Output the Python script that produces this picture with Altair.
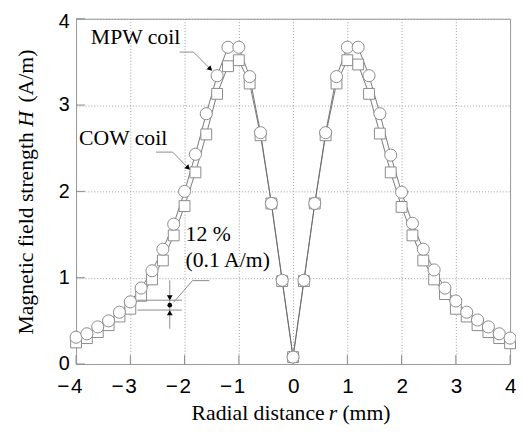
import altair as alt
import pandas as pd

# ---------------- data ----------------
r_pos = [-4.0, -3.8, -3.6, -3.4, -3.2, -3.0, -2.8, -2.6, -2.4, -2.2, -2.0,
         -1.8, -1.6, -1.4, -1.2, -1.0, -0.8, -0.6, -0.4, -0.2, 0.0,
         0.2, 0.4, 0.6, 0.8, 1.0, 1.2, 1.4, 1.6, 1.8, 2.0,
         2.2, 2.4, 2.6, 2.8, 3.0, 3.2, 3.4, 3.6, 3.8, 4.0]

mpw_H = [0.31, 0.35, 0.43, 0.50, 0.60, 0.72, 0.88, 1.08, 1.33, 1.62, 2.00,
         2.43, 2.90, 3.34, 3.67, 3.67, 3.33, 2.68, 1.86, 0.97, 0.08,
         0.97, 1.86, 2.68, 3.33, 3.67, 3.67, 3.34, 2.90, 2.42, 1.99,
         1.63, 1.33, 1.09, 0.88, 0.73, 0.60, 0.51, 0.43, 0.35, 0.30]

cow_H = [0.25, 0.30, 0.37, 0.45, 0.55, 0.64, 0.79, 0.98, 1.20, 1.49, 1.83,
         2.22, 2.66, 3.13, 3.45, 3.52, 3.25, 2.65, 1.86, 0.96, 0.08,
         0.96, 1.86, 2.65, 3.25, 3.52, 3.47, 3.13, 2.67, 2.22, 1.82,
         1.49, 1.20, 0.98, 0.81, 0.64, 0.55, 0.45, 0.37, 0.30, 0.24]

x_ticks = [-4, -3, -2, -1, 0, 1, 2, 3, 4]
y_ticks = [0, 1, 2, 3, 4]

# annotation texts (data coordinates)
ann_label = ["MPW coil", "COW coil", "12 %", "(0.1 A/m)"]
ann_r = [-3.727, -3.945, -1.982, -1.982]
ann_H = [3.705, 2.534, 1.42, 1.125]

# leader / dimension segments
seg_r1 = [-2.091, -1.836, -2.527, -2.218, -2.87, -2.87, -2.273, -2.20, -1.855]
seg_H1 = [3.614, 3.614, 2.455, 2.455, 0.739, 0.625, 0.97, 0.716, 0.966]
seg_r2 = [-1.836, -1.536, -2.218, -1.945, -2.05, -2.05, -2.273, -1.855, -1.545]
seg_H2 = [3.614, 3.425, 2.455, 2.278, 0.739, 0.625, 0.41, 0.966, 0.966]

# arrow heads
arw_r = [-1.536, -1.945, -2.273, -2.273]
arw_H = [3.425, 2.278, 0.778, 0.585]
arw_angle = [133, 135, 180, 0]

dot_r = [-2.273]
dot_H = [0.682]

SERIF = "Liberation Serif, Times New Roman, Times, DejaVu Serif, serif"
SANS = "Liberation Sans, Arial, Helvetica, sans-serif"

# ---------------- build ----------------
W, H = 440, 350
df = pd.DataFrame({
    "r": r_pos * 2,
    "H": mpw_H + cow_H,
    "coil": ["MPW"] * len(r_pos) + ["COW"] * len(r_pos),
})

xscale = alt.Scale(domain=[-4, 4], nice=False, zero=False)
yscale = alt.Scale(domain=[0, 4], nice=False, zero=False)

xaxis = alt.Axis(values=x_ticks, title=None, grid=True, ticks=False, domain=False,
                 labelExpr="datum.value < 0 ? '\u2212\u200a' + abs(datum.value) : datum.label",
                 labelAlign="right", labelOffset=6, labelPadding=12, labelBaseline="top",
                 labelFont=SANS, labelFontSize=21, labelColor="black",
                 labelOverlap=False, gridColor="#9a9a9a", gridDash=[1, 2], gridWidth=1)
yaxis = alt.Axis(values=y_ticks, title=None, grid=True, ticks=False, domain=False,
                 labelPadding=7, labelFont=SANS, labelFontSize=20,
                 labelOffset={"condition": {"test": "datum.value == 4", "value": 3}, "value": 0},
                 labelColor="black", labelOverlap=False,
                 gridColor="#9a9a9a", gridDash=[1, 2], gridWidth=1)


def X(field):
    return alt.X(f"{field}:Q", scale=xscale, axis=xaxis)


def Y(field):
    return alt.Y(f"{field}:Q", scale=yscale, axis=yaxis)


base = alt.Chart(df)

lines = base.mark_line(color="#6a6a6a", strokeWidth=0.9).encode(
    x=X("r"), y=Y("H"), detail="coil:N")

squares = base.transform_filter(alt.datum.coil == "COW").mark_point(
    shape="square", size=121, filled=True, fill="white", stroke="#8a8a8a",
    strokeWidth=1, opacity=1).encode(x=X("r"), y=Y("H"))

circles = base.transform_filter(alt.datum.coil == "MPW").mark_point(
    shape="circle", size=150, filled=True, fill="white", stroke="#8a8a8a",
    strokeWidth=1, opacity=1).encode(x=X("r"), y=Y("H"))

tick_df = pd.DataFrame({"t": x_ticks})
ytick_df = pd.DataFrame({"t": y_ticks})
xticks_in = alt.Chart(tick_df).mark_rule(color="#8a8a8a", strokeWidth=1).encode(
    x=X("t"), y=alt.value(H), y2=alt.value(H - 9))
yticks_in = alt.Chart(ytick_df).mark_rule(color="#8a8a8a", strokeWidth=1).encode(
    y=Y("t"), x=alt.value(0), x2=alt.value(9))

seg_df = pd.DataFrame({"r": seg_r1, "H": seg_H1, "r2": seg_r2, "H2": seg_H2})
segs = alt.Chart(seg_df).mark_rule(color="#8a8a8a", strokeWidth=1).encode(
    x=X("r"), y=Y("H"), x2="r2:Q", y2="H2:Q")

arw_df = pd.DataFrame({"r": arw_r, "H": arw_H, "a": arw_angle})
arrows = alt.Chart(arw_df).mark_point(shape="triangle", filled=True, color="black",
                                      size=34, opacity=1).encode(
    x=X("r"), y=Y("H"), angle=alt.Angle("a:Q", scale=None))

dot = alt.Chart(pd.DataFrame({"r": dot_r, "H": dot_H})).mark_point(
    shape="circle", filled=True, color="black", size=22, opacity=1).encode(
    x=X("r"), y=Y("H"))

ann_df = pd.DataFrame({"r": ann_r, "H": ann_H, "t": ann_label})
ann = alt.Chart(ann_df).mark_text(align="left", baseline="alphabetic",
                                  font=SERIF, fontSize=22,
                                  color="black").encode(
    x=X("r"), y=Y("H"), text="t:N")


def title_part(txt, x, y, align, italic=False, angle=0):
    kw = dict(align=align, baseline="alphabetic", font=SERIF,
              fontSize=22, color="black", angle=angle)
    if italic:
        kw["fontStyle"] = "italic"
    return alt.Chart(pd.DataFrame({"t": [txt]})).mark_text(**kw).encode(
        text="t:N", x=alt.value(x), y=alt.value(y))


# x-axis title (pieces so that "r" can be italic)
xt1 = title_part("Radial distance", 252, 407, "right")
xt2 = title_part("r", 260.5, 407, "center", italic=True)
xt3 = title_part("(mm)", 270, 407, "left")

# y-axis title (rotated, "H" italic)
yt1 = title_part("Magnetic field strength", -44, 115, "right", angle=270)
yt2 = title_part("H", -44, 101.5, "center", italic=True, angle=270)
yt3 = title_part("(A/m)", -44, 85, "left", angle=270)

chart = alt.layer(
    xticks_in, yticks_in, lines, squares, circles, segs, arrows, dot, ann,
    xt1, xt2, xt3, yt1, yt2, yt3
).properties(
    width=W, height=H,
    autosize=alt.AutoSizeParams(type="none"),
    padding={"left": 69, "top": 8, "right": 6, "bottom": 64},
).configure_view(stroke="#999999", strokeWidth=1)

chart.save("out.html", embed_options={"renderer": "svg", "actions": False})
